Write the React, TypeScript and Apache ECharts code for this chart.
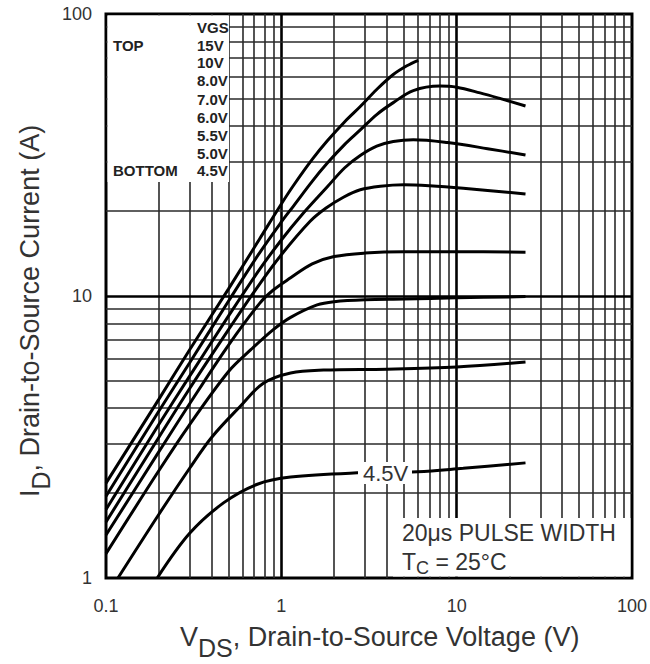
import React, { useEffect, useRef } from "react";
import * as echarts from "echarts";

// Output characteristics: drain current vs drain-source voltage, one curve per gate voltage.
const VDS_15V = [0.1, 0.2, 0.3, 0.5, 0.75, 1, 1.17, 1.5, 1.83, 2.3, 2.82, 3.5, 4.35, 5.2, 6.04];
const ID_15V = [2.17, 4.3, 6.45, 10.6, 15.9, 21.2, 24.6, 30.5, 35.5, 41.5, 47, 54, 61, 65.5, 68.5];

const VDS_10V = [0.1, 0.2, 0.3, 0.5, 0.75, 1, 1.17, 1.5, 1.83, 2.3, 2.82, 3.5, 4.35, 5.66, 8, 10, 13.6, 18, 24.7];
const ID_10V = [1.95, 3.9, 5.8, 9.6, 14.2, 18.3, 20.8, 25.5, 29.6, 34.5, 38.8, 44, 48.5, 53.5, 55.5, 55, 52.5, 50, 47.2];

const VDS_8V = [0.1, 0.2, 0.3, 0.5, 0.75, 1, 1.3, 1.83, 2.3, 2.82, 3.5, 4.35, 5.66, 8.85, 15, 24.7];
const ID_8V = [1.75, 3.5, 5.2, 8.5, 12.4, 15.8, 19.3, 24.4, 28.5, 31.5, 34, 35.3, 35.8, 35, 33.3, 31.6];

const VDS_7V = [0.1, 0.2, 0.3, 0.5, 0.75, 1, 1.46, 1.8, 2.26, 2.82, 3.67, 5, 7, 10.9, 24.7];
const ID_7V = [1.58, 3.15, 4.7, 7.6, 11, 14, 18.4, 20.5, 22.4, 23.8, 24.5, 24.8, 24.6, 24.1, 23.0];

const VDS_6V = [0.1, 0.2, 0.3, 0.5, 0.75, 0.9, 1.13, 1.5, 2, 3, 5, 10, 24.7];
const ID_6V = [1.42, 2.8, 4.15, 6.7, 9.4, 10.5, 11.6, 13, 13.8, 14.2, 14.35, 14.35, 14.3];

const VDS_5V5 = [0.1, 0.2, 0.3, 0.5, 0.67, 0.9, 1.13, 1.6, 2, 3, 5, 10, 24.7];
const ID_5V5 = [1.22, 2.4, 3.5, 5.4, 6.45, 7.6, 8.4, 9.3, 9.55, 9.7, 9.75, 9.85, 9.95];

const VDS_5V = [0.117, 0.2, 0.3, 0.4, 0.58, 0.79, 1.13, 1.74, 4, 10, 24.7];
const ID_5V = [1, 1.68, 2.45, 3.15, 4.05, 4.9, 5.33, 5.46, 5.5, 5.6, 5.83];

const VDS_4V5 = [0.196, 0.3, 0.47, 0.73, 1.13, 2.71, 6, 10.9, 24.7];
const ID_4V5 = [1, 1.44, 1.85, 2.15, 2.28, 2.36, 2.38, 2.45, 2.56];

const CURVES = [
  { name: "15V", vds: VDS_15V, id: ID_15V },
  { name: "10V", vds: VDS_10V, id: ID_10V },
  { name: "8.0V", vds: VDS_8V, id: ID_8V },
  { name: "7.0V", vds: VDS_7V, id: ID_7V },
  { name: "6.0V", vds: VDS_6V, id: ID_6V },
  { name: "5.5V", vds: VDS_5V5, id: ID_5V5 },
  { name: "5.0V", vds: VDS_5V, id: ID_5V },
  { name: "4.5V", vds: VDS_4V5, id: ID_4V5 },
];

// Log grid lines
const X_MINOR = [0.2, 0.3, 0.4, 0.5, 0.6, 0.7, 0.8, 0.9, 2, 3, 4, 5, 6, 7, 8, 9, 20, 30, 40, 50, 60, 70, 80, 90];
const X_MAJOR = [1, 10];
const Y_MINOR = [2, 3, 4, 5, 6, 7, 8, 9, 20, 30, 40, 50, 60, 70, 80, 90];
const Y_MAJOR = [10];

const X_TICKS = [0.1, 1, 10, 100];
const X_TICK_LABELS = ["0.1", "1", "10", "100"];
const Y_TICKS = [1, 10, 100];
const Y_TICK_LABELS = ["1", "10", "100"];

const LEGEND_TITLE = "VGS";
const LEGEND_LABELS = ["15V", "10V", "8.0V", "7.0V", "6.0V", "5.5V", "5.0V", "4.5V"];

const FONT = "'Liberation Sans', Arial, sans-serif";

// Plot area in pixels
const G_LEFT = 106;
const G_TOP = 14;
const G_RIGHT = 632;
const G_BOTTOM = 578;

function tickFormatter(ticks: number[], labels: string[]) {
  return (v: number) => {
    const idx = ticks.findIndex((t) => Math.abs(t - v) / t < 1e-6);
    return idx >= 0 ? labels[idx] : "";
  };
}

export default function App() {
  const ref = useRef<HTMLDivElement>(null);

  useEffect(() => {
    if (!ref.current) return;
    const chart = echarts.init(ref.current, undefined, { renderer: "svg" });

    const minorStyle = { color: "#2a2a2a", width: 1.6, type: "solid" };
    const majorStyle = { color: "#000", width: 2.6, type: "solid" };
    const gridLines: any[] = [
      ...X_MINOR.map((v) => ({ xAxis: v, lineStyle: minorStyle })),
      ...X_MAJOR.map((v) => ({ xAxis: v, lineStyle: majorStyle })),
      ...Y_MINOR.map((v) => ({ yAxis: v, lineStyle: minorStyle })),
      ...Y_MAJOR.map((v) => ({ yAxis: v, lineStyle: majorStyle })),
    ];

    const curveSeries = CURVES.map((c) => ({
      type: "line",
      name: c.name,
      data: c.vds.map((v, i) => [v, c.id[i]]),
      showSymbol: false,
      smooth: 0.35,
      lineStyle: { color: "#000", width: 3 },
      z: 5,
      silent: true,
    }));

    const legendY = [45, 62, 80, 99, 117, 135, 153, 170];
    const legendFont = `bold 15px ${FONT}`;
    const legendText: any[] = [
      {
        type: "text", x: 197, y: 27, z: 110,
        style: { text: LEGEND_TITLE, font: legendFont, fill: "#222", textVerticalAlign: "middle" },
      },
      {
        type: "text", x: 113, y: 45, z: 110,
        style: { text: "TOP", font: legendFont, fill: "#222", textVerticalAlign: "middle" },
      },
      {
        type: "text", x: 113, y: 170, z: 110,
        style: { text: "BOTTOM", font: legendFont, fill: "#222", textVerticalAlign: "middle" },
      },
      ...LEGEND_LABELS.map((t, i) => ({
        type: "text", x: 197, y: legendY[i], z: 110,
        style: { text: t, font: legendFont, fill: "#222", textVerticalAlign: "middle" },
      })),
    ];

    const titleRich = {
      n: { font: `27px ${FONT}`, fill: "#333", verticalAlign: "top" },
      s: { font: `25px ${FONT}`, fill: "#333", verticalAlign: "bottom", padding: [12, 0, 0, 0] },
    };

    const option: any = {
      animation: false,
      backgroundColor: "#fff",
      grid: {
        left: G_LEFT,
        top: G_TOP,
        width: G_RIGHT - G_LEFT,
        height: G_BOTTOM - G_TOP,
        show: true,
        borderColor: "#000",
        borderWidth: 3,
      },
      xAxis: {
        type: "log",
        logBase: 10,
        min: 0.1,
        max: 100,
        axisLine: { show: false },
        axisTick: { show: false },
        splitLine: { show: false },
        axisLabel: {
          margin: 19,
          fontSize: 18,
          color: "#333",
          fontFamily: FONT,
          formatter: tickFormatter(X_TICKS, X_TICK_LABELS),
        },
      },
      yAxis: {
        type: "log",
        logBase: 10,
        min: 1,
        max: 100,
        axisLine: { show: false },
        axisTick: { show: false },
        splitLine: { show: false },
        axisLabel: {
          margin: 14,
          fontSize: 18,
          color: "#333",
          fontFamily: FONT,
          formatter: tickFormatter(Y_TICKS, Y_TICK_LABELS),
        },
      },
      series: [
        {
          type: "line",
          data: [[1, 10]],
          showSymbol: false,
          lineStyle: { opacity: 0 },
          silent: true,
          z: 3,
          markLine: {
            silent: true,
            symbol: ["none", "none"],
            label: { show: false },
            emphasis: { disabled: true },
            data: gridLines,
          },
        },
        ...curveSeries,
      ],
      graphic: [
        // legend panel
        {
          type: "rect", z: 100,
          shape: { x: G_LEFT + 1.5, y: G_TOP + 1.5, width: 229 - G_LEFT - 1.5, height: 182 - G_TOP - 1.5 },
          style: { fill: "#fff" },
        },
        ...legendText,
        // note panel
        {
          type: "rect", z: 100,
          shape: { x: 393, y: 518, width: G_RIGHT - 1.5 - 393, height: G_BOTTOM - 1.5 - 518 },
          style: { fill: "#fff" },
        },
        {
          type: "text", x: 402, y: 533, z: 110,
          style: { text: "20μs PULSE WIDTH", font: `23px ${FONT}`, fill: "#333", textVerticalAlign: "middle" },
        },
        {
          type: "text", x: 402, y: 550, z: 110,
          style: {
            text: "{n|T}{s|C}{n| = 25°C}",
            fill: "#333",
            rich: {
              n: { font: `23px ${FONT}`, fill: "#333", verticalAlign: "top" },
              s: { font: `18px ${FONT}`, fill: "#333", verticalAlign: "bottom", padding: [9, 0, 0, 0] },
            },
          },
        },
        // curve tag
        {
          type: "rect", z: 100,
          shape: { x: 358, y: 462, width: 54, height: 22 },
          style: { fill: "#fff" },
        },
        {
          type: "text", x: 363, y: 473, z: 110,
          style: { text: "4.5V", font: `22px ${FONT}`, fill: "#333", textVerticalAlign: "middle" },
        },
        // axis titles
        {
          type: "text", x: 180, y: 623, z: 110,
          style: { text: "{n|V}{s|DS}{n|, Drain-to-Source Voltage (V)}", fill: "#333", rich: titleRich },
        },
        {
          type: "text", x: 16, y: 497, z: 110, rotation: Math.PI / 2,
          style: { text: "{n|I}{s|D}{n|, Drain-to-Source Current (A)}", fill: "#333", rich: titleRich },
        },
      ],
    };

    chart.setOption(option);
    return () => chart.dispose();
  }, []);

  return (
    <div
      ref={ref}
      style={{ position: "fixed", left: 0, top: 0, width: 650, height: 664, background: "#fff" }}
    />
  );
}
